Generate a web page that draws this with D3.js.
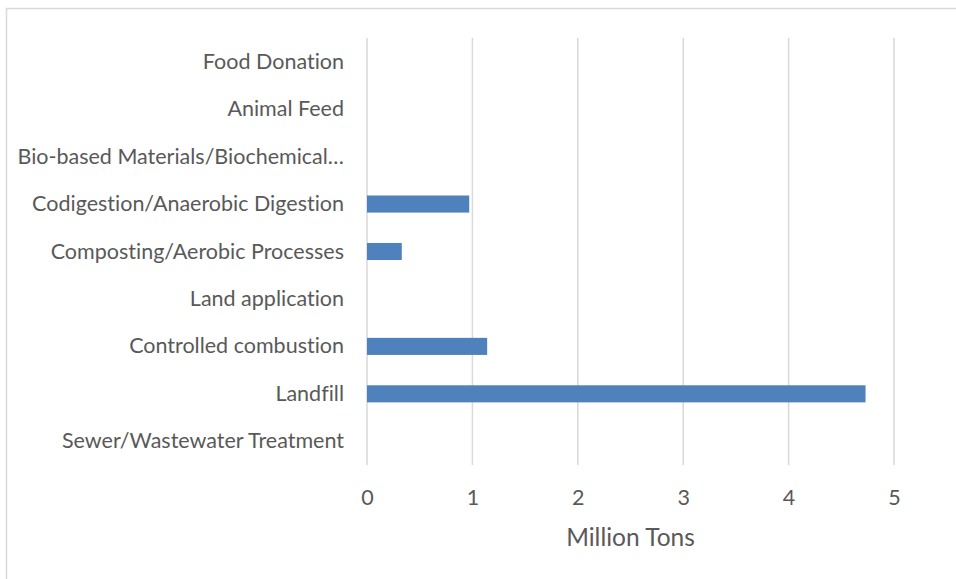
<!DOCTYPE html>
<html>
<head>
<meta charset="utf-8">
<script src="https://cdn.jsdelivr.net/npm/d3@7"></script>
<style>
  body { margin: 0; background: #fff; }
  text { font-family: Lato, sans-serif; fill: #595959; font-variant-ligatures: none; }
</style>
</head>
<body>
<div id="chart"></div>
<script>
var categories = [
  "Food Donation",
  "Animal Feed",
  "Bio-based Materials/Biochemical\u2026",
  "Codigestion/Anaerobic Digestion",
  "Composting/Aerobic Processes",
  "Land application",
  "Controlled combustion",
  "Landfill",
  "Sewer/Wastewater Treatment"
]
var values = [0, 0, 0, 0.97, 0.33, 0, 1.14, 4.73, 0]
var xTicks = [0, 1, 2, 3, 4, 5]

var width = 956
var height = 579
var margin = {top: 38, right: 62, bottom: 114, left: 367}
var labelFont = "21.5px"

var svg = d3.select("#chart").append("svg")
  .attr("width", width)
  .attr("height", height)

// chart border
svg.append("rect")
  .attr("x", 6.5)
  .attr("y", 8.5)
  .attr("width", 1000)
  .attr("height", 1000)
  .attr("fill", "none")
  .attr("stroke", "#d9d9d9")
  .attr("stroke-width", 1.5)

var x = d3.scaleLinear()
  .domain([0, 5])
  .range([margin.left, width - margin.right])

var y = d3.scaleBand()
  .domain(categories)
  .range([margin.top, height - margin.bottom])
  .paddingInner(0.64)
  .paddingOuter(0.32)

// gridlines
svg.append("g")
  .selectAll("line")
  .data(xTicks)
  .enter().append("line")
  .attr("x1", function(d) { return x(d) })
  .attr("x2", function(d) { return x(d) })
  .attr("y1", margin.top)
  .attr("y2", height - margin.bottom)
  .attr("stroke", "#d9d9d9")
  .attr("stroke-width", 1.5)

// bars
svg.append("g")
  .selectAll("rect")
  .data(values)
  .enter().append("rect")
  .attr("x", x(0))
  .attr("y", function(d, i) { return y(categories[i]) })
  .attr("width", function(d) { return x(d) - x(0) })
  .attr("height", y.bandwidth())
  .attr("fill", "#4f81bd")
  .attr("display", function(d) { return d > 0 ? null : "none" })

// category labels
var yAxis = d3.axisLeft(y).tickSize(0).tickPadding(23)
var yg = svg.append("g")
  .attr("transform", "translate(" + margin.left + ",0)")
  .call(yAxis)
yg.select(".domain").remove()
yg.selectAll("text")
  .style("font-size", labelFont)
  .style("font-family", "Lato, sans-serif")
  .attr("fill", "#595959")
  .attr("dy", "0.33em")

// x tick labels
var xAxis = d3.axisBottom(x).tickValues(xTicks).tickFormat(d3.format("d"))
  .tickSize(0).tickPadding(25)
var xg = svg.append("g")
  .attr("transform", "translate(0," + (height - margin.bottom) + ")")
  .call(xAxis)
xg.select(".domain").remove()
xg.selectAll("text")
  .style("font-size", labelFont)
  .style("font-family", "Lato, sans-serif")
  .attr("fill", "#595959")

// axis title
svg.append("text")
  .attr("x", (x(0) + x(5)) / 2)
  .attr("y", 546)
  .attr("text-anchor", "middle")
  .style("font-size", "24.5px")
  .text("Million Tons")
</script>
</body>
</html>
